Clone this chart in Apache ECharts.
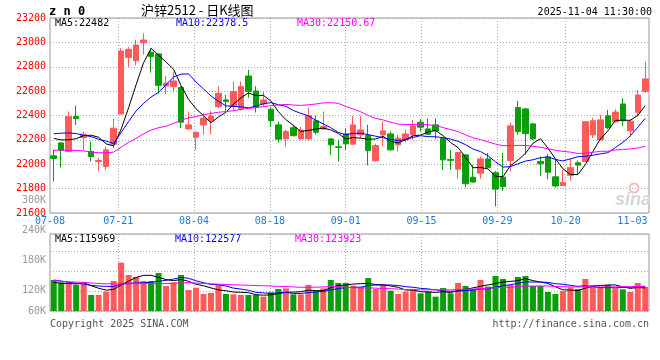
<!DOCTYPE html>
<html><head><meta charset="utf-8">
<script src="https://cdn.jsdelivr.net/npm/echarts@6/dist/echarts.min.js"></script>
<style>html,body{margin:0;padding:0;background:#fff}#c{width:660px;height:360px}</style>
</head><body><div id="c"></div>
<script>
// ---------------- data ----------------
const dates = ['07-08','07-09','07-10','07-11','07-14','07-15','07-16','07-17','07-18','07-21','07-22','07-23','07-24','07-25','07-28','07-29','07-30','07-31','08-01','08-04','08-05','08-06','08-07','08-08','08-11','08-12','08-13','08-14','08-15','08-18','08-19','08-20','08-21','08-22','08-25','08-26','08-27','08-28','08-29','09-01','09-02','09-03','09-04','09-05','09-08','09-09','09-10','09-11','09-12','09-15','09-16','09-17','09-18','09-19','09-22','09-23','09-24','09-25','09-26','09-29','09-30','10-09','10-10','10-13','10-14','10-15','10-16','10-17','10-20','10-21','10-22','10-23','10-24','10-27','10-28','10-29','10-30','10-31','11-03','11-04'];
const tickDates = ['07-08','07-21','08-04','08-18','09-01','09-15','09-29','10-20','11-03'];
const gridDates = ['07-21','08-04','08-18','09-01','09-15','09-29','10-20'];

const opens  = [22069,22175,22105,22391,22219,22105,22023,21982,22165,22413,22877,22849,22997,22920,22905,22642,22637,22630,22290,22222,22323,22356,22473,22528,22473,22455,22724,22601,22495,22452,22323,22209,22300,22208,22208,22356,22290,22208,22143,22249,22165,22241,22236,22028,22241,22249,22159,22200,22241,22345,22290,22323,22214,22040,21960,22077,21894,21927,22044,21930,21894,22031,22465,22454,22331,22023,22060,21897,21826,21908,22012,22023,22241,22200,22397,22348,22495,22274,22426,22598];
const closes = [22047,22115,22391,22375,22246,22064,22031,22118,22296,22929,22943,22978,23019,22885,22648,22665,22683,22345,22323,22263,22378,22395,22582,22514,22596,22637,22599,22470,22528,22357,22206,22268,22235,22280,22397,22262,22309,22159,22138,22167,22323,22282,22112,22153,22274,22118,22214,22249,22313,22304,22246,22274,22036,22032,22096,21840,21854,22044,21974,21796,21818,22315,22268,22252,22208,22004,21935,21822,21850,21972,21993,22349,22357,22364,22300,22428,22357,22353,22568,22700];
const lows   = [21859,21974,22099,22323,22118,22023,21946,21954,22132,22410,22800,22812,22900,22752,22578,22577,22596,22296,22282,22118,22241,22246,22460,22432,22435,22440,22545,22425,22475,22306,22178,22145,22228,22200,22200,22246,22280,22077,22023,22118,22160,22214,21990,22020,22146,22110,22105,22180,22200,22268,22240,22208,21954,21954,21881,21810,21850,21881,21968,21654,21783,21941,22241,22080,22200,21905,21878,21810,21820,21865,21914,22020,22214,22195,22288,22340,22315,22227,22391,22586];
const highs  = [22118,22178,22432,22481,22268,22186,22055,22146,22372,22951,22964,23022,23075,22950,22910,22725,22759,22640,22432,22270,22420,22437,22640,22570,22680,22680,22775,22640,22596,22470,22350,22282,22325,22305,22465,22400,22432,22215,22200,22296,22395,22397,22323,22170,22350,22268,22240,22282,22364,22370,22375,22375,22220,22118,22100,22080,21995,22064,22091,21946,22091,22342,22519,22460,22340,22064,22083,22040,21954,22043,22030,22352,22380,22405,22446,22451,22541,22370,22609,22840];
const volumes = [137000,132300,132300,127000,129000,107000,107000,113700,135000,171700,147000,143000,135000,135000,151000,125000,132300,147000,117000,121700,109000,111000,127000,109000,108300,107000,107000,107000,103700,112300,119000,120300,108300,108300,127000,115000,120300,137000,131000,131000,125700,123000,141000,119000,127000,115700,109000,113700,119000,110300,113700,103700,121000,110300,131000,125000,119000,137000,123700,145000,139000,127000,143000,145000,125000,125000,113000,109000,115000,122300,119000,139000,127000,123000,127000,120300,118300,113000,131000,123000];

// moving-average values at the left edge (their windows start before 07-08)
const ma5Head  = [22212,22200,22200,22210];
const ma10Head = [22250,22255,22257,22252,22238,22227,22205,22190,22170];
const ma30Head = [22115,22115,22115,22113,22110,22100,22095,22093,22100,22140,22180,22212,22250,22280,22300,22312,22335,22362,22380,22392,22405,22417,22427,22432,22440,22450,22458,22465,22472];
const volMa5Head  = [132300,130300,130300,129000];
const volMa10Head = [137000,135000,132300,130300,129000,126300,125000,124300,123700];
const volMa30Head = [135700,134500,133500,132800,132300,131000,130000,129500,129200,129000,129300,129700,129700,129700,129700,129800,130500,131300,131700,130800,130000,129300,128700,128000,127500,127000,126500,126000,125500];

const priceMin = 21600, priceMax = 23200, priceStep = 200;
const volMin = 75000, volMax = 229000;
const volTickValues = [60000,120000,180000,240000,300000];
const volTickLabels = ['60K','120K','180K','240K','300K'];
const mainLegend = ['MA5:22482','MA10:22378.5','MA30:22150.67'];
const volLegend  = ['MA5:115969','MA10:122577','MA30:123923'];
const titleCode = 'z n 0';
const titleName = '沪锌2512 - 日K线图';
const stamp = '2025-11-04 11:30:00';
const footLeft = 'Copyright 2025 SINA.COM';
const footRight = 'http://finance.sina.com.cn';

// ---------------- build ----------------
const RED = '#ff5a5a', GREEN = '#0a9e0a';
const MONO = '"DejaVu Sans Mono", monospace';
function ma(src, n, head) {
  return src.map((_, i) => i < n - 1 ? head[i] : +(src.slice(i - n + 1, i + 1).reduce((a, b) => a + b, 0) / n).toFixed(2));
}
const candles = dates.map((_, i) => [opens[i], closes[i], lows[i], highs[i]]);
const tickIdx = tickDates.map(d => dates.indexOf(d));
const gridIdx = gridDates.map(d => dates.indexOf(d));
const lastTick = tickIdx[tickIdx.length - 1];

const chart = echarts.init(document.getElementById('c'), null, {renderer: 'canvas'});
const dotted = {color: '#a8a8a8', width: 1, type: [1, 2]};
const lineS = (data, color, xi, yi) => ({type: 'line', data, xAxisIndex: xi, yAxisIndex: yi, symbol: 'none', showSymbol: false, silent: true, lineStyle: {color, width: 1}, z: 5});
const txt = (x, y, text, fill, font, align) => ({type: 'text', x, y, style: {text, fill, font, align: align || 'left', verticalAlign: 'middle', textAlign: align || 'left', textVerticalAlign: 'middle'}});

const option = {
  animation: false,
  backgroundColor: '#fff',
  grid: [
    {left: 50, top: 18, width: 599, height: 195, show: true, borderColor: '#999', borderWidth: 1},
    {left: 50, top: 234, width: 599, height: 77, show: true, borderColor: '#999', borderWidth: 1},
    {left: 50, top: 200, width: 599, height: 120, show: false}
  ],
  xAxis: [
    {type: 'category', gridIndex: 0, position: 'bottom', data: dates, boundaryGap: true, show: false},
    {type: 'category', gridIndex: 0, position: 'bottom', data: dates, boundaryGap: false,
      axisLine: {show: false}, axisTick: {show: false},
      axisLabel: {show: true, interval: (i) => tickIdx.includes(i), color: '#1a7ad4', fontSize: 10, fontFamily: MONO, margin: 3,
        formatter: (v, i) => i === lastTick ? '{r|' + v + '}' : v,
        rich: {r: {padding: [0, 18, 0, 0], color: '#1a7ad4', fontSize: 10, fontFamily: MONO}}},
      splitLine: {show: true, interval: (i) => gridIdx.includes(i), lineStyle: dotted}},
    {type: 'category', gridIndex: 1, position: 'bottom', data: dates, boundaryGap: true, show: false},
    {type: 'category', gridIndex: 1, position: 'bottom', data: dates, boundaryGap: false,
      axisLine: {show: false}, axisTick: {show: false}, axisLabel: {show: false},
      splitLine: {show: true, interval: (i) => gridIdx.includes(i), lineStyle: dotted}},
    {type: 'category', gridIndex: 2, position: 'bottom', data: dates, show: false}
  ],
  yAxis: [
    {type: 'value', gridIndex: 0, position: 'left', min: priceMin, max: priceMax, interval: priceStep,
      axisLine: {show: false}, axisTick: {show: false},
      axisLabel: {color: '#ff0000', fontSize: 10, fontFamily: MONO, margin: 4, formatter: (v) => String(v)},
      splitLine: {show: true, lineStyle: dotted}},
    {type: 'value', gridIndex: 1, position: 'left', min: volMin, max: volMax, show: false},
    {type: 'value', gridIndex: 1, position: 'right', min: -4.5, max: 72.5, interval: 20,
      axisLine: {show: false}, axisTick: {show: false}, axisLabel: {show: false},
      splitLine: {show: true, lineStyle: dotted}},
    {type: 'value', gridIndex: 2, position: 'left', min: volTickValues[0], max: volTickValues[volTickValues.length - 1], interval: volTickValues[1] - volTickValues[0],
      axisLine: {show: false}, axisTick: {show: false}, splitLine: {show: false},
      axisLabel: {color: '#999', fontSize: 10, fontFamily: MONO, margin: 4,
        formatter: (v) => { const k = volTickValues.indexOf(v); return k === 0 ? '{b|' + volTickLabels[k] + '}' : volTickLabels[k]; },
        rich: {b: {padding: [0, 0, 17, 0], color: '#999', fontSize: 10, fontFamily: MONO}}}}
  ],
  series: [
    {type: 'candlestick', xAxisIndex: 0, yAxisIndex: 0, data: candles, barWidth: 6, silent: true,
      itemStyle: {color: RED, color0: GREEN, borderColor: RED, borderColor0: GREEN, borderWidth: 1}},
    lineS(ma(closes, 5, ma5Head), '#000000', 0, 0),
    lineS(ma(closes, 10, ma10Head), '#0000ff', 0, 0),
    lineS(ma(closes, 30, ma30Head), '#ff00ff', 0, 0),
    {type: 'bar', xAxisIndex: 2, yAxisIndex: 1, data: volumes, barWidth: 6, silent: true, clip: true,
      itemStyle: {color: (p) => closes[p.dataIndex] >= opens[p.dataIndex] ? RED : GREEN}},
    lineS(ma(volumes, 5, volMa5Head), '#000000', 2, 1),
    lineS(ma(volumes, 10, volMa10Head), '#0000ff', 2, 1),
    lineS(ma(volumes, 30, volMa30Head), '#ff00ff', 2, 1)
  ],
  graphic: [
    txt(49, 12, titleCode, '#000', 'bold 12px ' + MONO),
    txt(141, 10, titleName, '#000', '13px "Noto Sans CJK SC", sans-serif'),
    txt(652, 12, stamp, '#000', '10px ' + MONO, 'right'),
    txt(55, 23.5, mainLegend[0], '#000', '10px ' + MONO),
    txt(176, 23.5, mainLegend[1], '#0000ff', '10px ' + MONO),
    txt(297, 23.5, mainLegend[2], '#ff00ff', '10px ' + MONO),
    txt(55, 239.5, volLegend[0], '#000', '10px ' + MONO),
    txt(175, 239.5, volLegend[1], '#0000ff', '10px ' + MONO),
    txt(295, 239.5, volLegend[2], '#ff00ff', '10px ' + MONO),
    txt(50, 324, footLeft, '#555', '10px ' + MONO),
    txt(649, 324, footRight, '#555', '10px ' + MONO, 'right'),
    {type: 'circle', shape: {cx: 634, cy: 188, r: 4.5}, style: {fill: 'none', stroke: '#f2bcbc', lineWidth: 2}, z: 1},
    Object.assign(txt(651, 200, 'sina', '#d6d6d6', 'italic bold 18px "Liberation Sans", sans-serif', 'right'), {z: 1})
  ]
};
chart.setOption(option);
</script>
</body></html>
